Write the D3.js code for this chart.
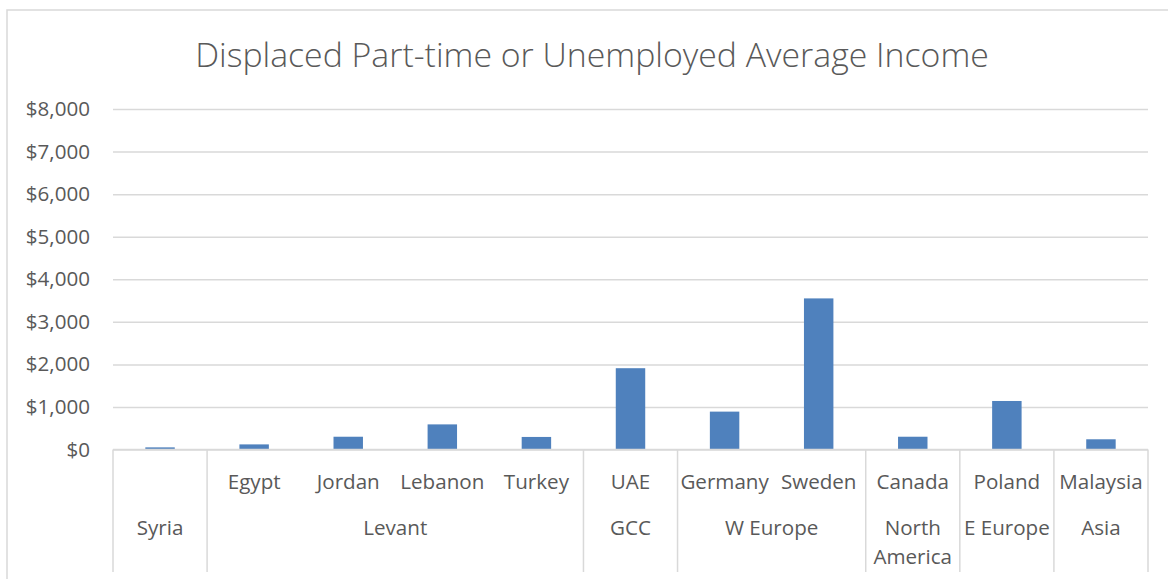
<!DOCTYPE html>
<html>
<head>
<meta charset="utf-8">
<script src="https://cdn.jsdelivr.net/npm/d3@7"></script>
<style>
  html, body { margin: 0; padding: 0; background: #fff; }
  svg { display: block; }
  text { font-family: "Open Sans", "Noto Sans", sans-serif; fill: #595959; }
</style>
</head>
<body>
<svg id="chart" width="1168" height="579"></svg>
<script>
// Average monthly income of displaced part-time or unemployed respondents
const regions   = ["Syria", "Levant", "Levant", "Levant", "Levant", "GCC", "W Europe", "W Europe", "North America", "E Europe", "Asia"];
const countries = ["", "Egypt", "Jordan", "Lebanon", "Turkey", "UAE", "Germany", "Sweden", "Canada", "Poland", "Malaysia"];
const incomes   = [50, 120, 300, 590, 295, 1910, 890, 3550, 300, 1140, 240];
const yTicks    = [0, 1000, 2000, 3000, 4000, 5000, 6000, 7000, 8000];
const titleText = "Displaced Part-time or Unemployed Average Income";

const svg = d3.select("#chart");
const plot = { left: 113, right: 1148, top: 109, bottom: 449.5 };
const gridColor = "#d9d9d9";
const labelSize = "20.6px";

// chart frame
svg.append("rect")
  .attr("x", 7).attr("y", 10)
  .attr("width", 1175).attr("height", 600)
  .attr("fill", "none").attr("stroke", gridColor).attr("stroke-width", 1.5);

// title
svg.append("text")
  .attr("x", 592).attr("y", 67)
  .attr("text-anchor", "middle")
  .style("font-size", "33.8px")
  .style("font-weight", 300)
  .text(titleText);

const idx = incomes.map((_, i) => i);
const x = d3.scaleBand()
  .domain(idx)
  .range([plot.left, plot.right])
  .paddingInner(0.687)
  .paddingOuter(0.3435);
const step = x.step();

const y = d3.scaleLinear()
  .domain([0, 8000])
  .range([plot.bottom, plot.top]);

// horizontal gridlines and value labels
const yAxis = d3.axisLeft(y)
  .tickValues(yTicks)
  .tickSize(-(plot.right - plot.left))
  .tickPadding(23)
  .tickFormat(d => "$" + d3.format(",")(d));

const gy = svg.append("g")
  .attr("transform", `translate(${plot.left},0)`)
  .call(yAxis);
gy.select(".domain").remove();
gy.selectAll(".tick line").attr("stroke", gridColor).attr("stroke-width", 1.5);
gy.selectAll(".tick text")
  .attr("fill", "#595959")
  .style("font-size", labelSize)
  .style("font-family", '"Open Sans", sans-serif');

// bars
svg.append("g").selectAll("rect")
  .data(incomes)
  .join("rect")
  .attr("x", (d, i) => x(i))
  .attr("width", x.bandwidth())
  .attr("y", d => y(d))
  .attr("height", d => y(0) - y(d))
  .attr("fill", "#4f81bd");

// category axis baseline
const axisBottom = 572;
svg.append("line")
  .attr("x1", plot.left).attr("x2", plot.right)
  .attr("y1", plot.bottom).attr("y2", plot.bottom)
  .attr("stroke", gridColor).attr("stroke-width", 1.5);

// group contiguous regions
const groups = [];
regions.forEach((r, i) => {
  const last = groups[groups.length - 1];
  if (last && last.name === r) last.end = i;
  else groups.push({ name: r, start: i, end: i });
});

const slotLeft = i => plot.left + i * step;

// group dividers
const dividers = [0, ...groups.map(g => g.end + 1)];
svg.append("g").selectAll("line")
  .data(dividers)
  .join("line")
  .attr("x1", d => slotLeft(d)).attr("x2", d => slotLeft(d))
  .attr("y1", plot.bottom).attr("y2", axisBottom)
  .attr("stroke", gridColor).attr("stroke-width", 1.5);

// country labels
svg.append("g").selectAll("text")
  .data(countries)
  .join("text")
  .attr("x", (d, i) => x(i) + x.bandwidth() / 2)
  .attr("y", 489)
  .attr("text-anchor", "middle")
  .style("font-size", labelSize)
  .text(d => d);

// region labels (wrap two-word names that do not fit their slot)
const regionText = svg.append("g").selectAll("text")
  .data(groups)
  .join("text")
  .attr("x", g => (slotLeft(g.start) + slotLeft(g.end + 1)) / 2)
  .attr("y", 535)
  .attr("text-anchor", "middle")
  .style("font-size", labelSize);

regionText.each(function(g) {
  const t = d3.select(this);
  const width = (g.end - g.start + 1) * step;
  t.text(g.name);
  if (this.getComputedTextLength() > width - 4 && g.name.includes(" ")) {
    const words = g.name.split(" ");
    t.text(null);
    const cx = (slotLeft(g.start) + slotLeft(g.end + 1)) / 2;
    words.forEach((w, k) => {
      t.append("tspan").attr("x", cx).attr("dy", k === 0 ? 0 : 29).text(w);
    });
  }
});
</script>
</body>
</html>
